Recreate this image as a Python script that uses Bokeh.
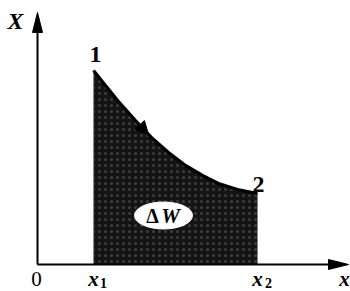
from bokeh.plotting import figure
from bokeh.models import Range1d, Arrow, NormalHead
from bokeh.core.properties import value
from bokeh.embed import file_html
from bokeh.resources import INLINE

# Diagram values (origin at the axis crossing)
curve_x = [56, 68, 81, 98, 115, 131, 148, 165, 181, 200, 220]
curve_X = [194, 179, 163, 144, 126, 112, 99, 89, 81, 75, 71]
x_axis_end = 311
X_axis_end = 252
point_labels = ["1", "2"]
tick_labels = ["0", "x", "x", "x"]
tick_subs = ["1", "2"]

p = figure(width=350, height=291, output_backend="svg", toolbar_location=None,
           x_range=Range1d(-37, 313), y_range=Range1d(-27, 264),
           min_border=0, min_border_left=0, min_border_right=0,
           min_border_top=0, min_border_bottom=0)
p.axis.visible = False
p.grid.visible = False
p.outline_line_color = None
p.background_fill_color = "white"

serif = value("Liberation Serif")

# shaded work area
p.varea(x=curve_x, y1=[0] * len(curve_x), y2=curve_X, fill_color="#141414",
        hatch_pattern="dot", hatch_color="#8a8a8a", hatch_alpha=0.35,
        hatch_scale=6, hatch_weight=1)
# curve
p.line(curve_x, curve_X, line_color="black", line_width=3.2)

# axes
p.line([0, 0], [0, X_axis_end - 14], line_color="black", line_width=2)
p.line([0, x_axis_end - 14], [0, 0], line_color="black", line_width=2)
hl = 20
hw = 5
p.patch([0, -hw, hw], [X_axis_end, X_axis_end - hl, X_axis_end - hl], fill_color="black", line_color="black")
p.patch([x_axis_end, x_axis_end - hl, x_axis_end - hl], [0, hw, -hw], fill_color="black", line_color="black")

# direction arrow on the curve
p.add_layout(Arrow(end=NormalHead(size=13, fill_color="black", line_color="black"),
                   x_start=curve_x[3], y_start=curve_X[3], x_end=curve_x[4] - 4, y_end=curve_X[4] + 4,
                   line_alpha=0))

# Delta W label
p.ellipse(x=[126], y=[49], width=58, height=27, fill_color="white", line_color="white")
p.text(x=[115], y=[49], text=["Δ"], text_font=serif, text_font_size="20px", text_font_style="bold",
       text_align="center", text_baseline="middle", text_color="black")
p.text(x=[133], y=[49], text=["W"], text_font=serif, text_font_size="21px", text_font_style="bold italic",
       text_align="center", text_baseline="middle", text_color="black")

# point labels
p.text(x=[curve_x[0] + 2, curve_x[-1] + 1], y=[curve_X[0] + 16, curve_X[-1] + 9], text=point_labels,
       text_font=serif, text_font_size="24px", text_font_style="bold",
       text_align="center", text_baseline="middle", text_color="black")

# axis labels
p.text(x=[-22], y=[244], text=["X"], text_font=serif, text_font_size="24px", text_font_style="bold italic",
       text_align="center", text_baseline="middle", text_color="black")
p.text(x=[-1], y=[-14], text=tick_labels[:1], text_font=serif, text_font_size="21px",
       text_align="center", text_baseline="middle", text_color="black")
tick_x = [curve_x[0], curve_x[-1], x_axis_end - 4]
p.text(x=tick_x, y=[-14, -14, -14], text=tick_labels[1:], text_font=serif, text_font_size="21px",
       text_font_style="bold italic", text_align="center", text_baseline="middle", text_color="black")
p.text(x=[tick_x[0] + 10, tick_x[1] + 11], y=[-18, -18], text=tick_subs, text_font=serif,
       text_font_size="14px", text_font_style="bold", text_align="center", text_baseline="middle",
       text_color="black")

open("out.html", "w").write(file_html(p, INLINE))
